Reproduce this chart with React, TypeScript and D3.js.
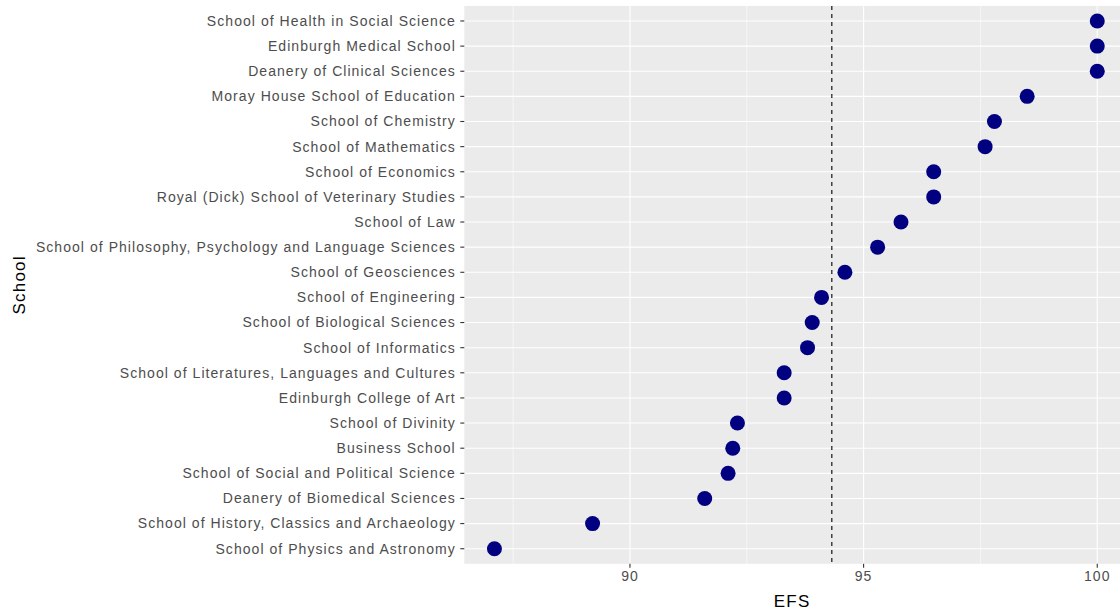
import React from "react";
import * as d3 from "d3";

const schools = [
  "School of Health in Social Science",
  "Edinburgh Medical School",
  "Deanery of Clinical Sciences",
  "Moray House School of Education",
  "School of Chemistry",
  "School of Mathematics",
  "School of Economics",
  "Royal (Dick) School of Veterinary Studies",
  "School of Law",
  "School of Philosophy, Psychology and Language Sciences",
  "School of Geosciences",
  "School of Engineering",
  "School of Biological Sciences",
  "School of Informatics",
  "School of Literatures, Languages and Cultures",
  "Edinburgh College of Art",
  "School of Divinity",
  "Business School",
  "School of Social and Political Science",
  "Deanery of Biomedical Sciences",
  "School of History, Classics and Archaeology",
  "School of Physics and Astronomy",
];
const efs = [
  100, 100, 100, 98.5, 97.8, 97.6, 96.5, 96.5, 95.8, 95.3, 94.6, 94.1, 93.9,
  93.8, 93.3, 93.3, 92.3, 92.2, 92.1, 91.6, 89.2, 87.1,
];
const meanLine = 94.32;
const xTicks = [90, 95, 100];
const xMinor = [87.5, 92.5, 97.5];

export default function App() {
  const W = 1120;
  const H = 611;
  const left = 464.3;
  const top = 5.9;
  const bottom = 563.8;
  const [mn, mx] = d3.extent(efs) as [number, number];
  const pad = (mx - mn) * 0.05;
  const x = d3
    .scaleLinear()
    .domain([mn - pad, mx + pad])
    .range([left, left + (mx - mn + 2 * pad) * 46.73]);
  const right = x.range()[1];
  const n = schools.length;
  const y = d3
    .scaleLinear()
    .domain([-0.6, n - 1 + 0.6])
    .range([top, bottom]);
  const font = "'Liberation Sans', Arial, sans-serif";
  return (
    <svg
      width={W}
      height={H}
      style={{ position: "absolute", left: 0, top: 0, background: "white" }}
    >
      <rect x={left} y={top} width={right - left} height={bottom - top} fill="#EBEBEB" />
      {xMinor.map((v) => (
        <line key={"m" + v} x1={x(v)} x2={x(v)} y1={top} y2={bottom} stroke="white" strokeWidth={0.55} />
      ))}
      {xTicks.map((v) => (
        <line key={"M" + v} x1={x(v)} x2={x(v)} y1={top} y2={bottom} stroke="white" strokeWidth={1.1} />
      ))}
      {schools.map((s, i) => (
        <line key={"h" + i} x1={left} x2={right} y1={y(i)} y2={y(i)} stroke="white" strokeWidth={1.1} />
      ))}
      <line
        x1={x(meanLine)}
        x2={x(meanLine)}
        y1={top}
        y2={bottom}
        stroke="black"
        strokeWidth={1.1}
        strokeDasharray="4,4"
      />
      {efs.map((v, i) => (
        <circle key={"p" + i} cx={x(v)} cy={y(i)} r={7.5} fill="#000080" />
      ))}
      {schools.map((s, i) => (
        <g key={"t" + i}>
          <line x1={left - 4} x2={left} y1={y(i)} y2={y(i)} stroke="#333333" strokeWidth={1.1} />
          <text
            x={left - 8.5}
            y={y(i)}
            dy="0.35em"
            textAnchor="end"
            fontFamily={font}
            fontSize={14}
            letterSpacing={1.05}
            fill="#4D4D4D"
          >
            {s}
          </text>
        </g>
      ))}
      {xTicks.map((v) => (
        <g key={"x" + v}>
          <line x1={x(v)} x2={x(v)} y1={bottom} y2={bottom + 4} stroke="#333333" strokeWidth={1.1} />
          <text
            x={x(v)}
            y={bottom + 17}
            textAnchor="middle"
            fontFamily={font}
            fontSize={14}
            letterSpacing={1}
            fill="#4D4D4D"
          >
            {v}
          </text>
        </g>
      ))}
      <text
        x={(left + 1120) / 2}
        y={607}
        textAnchor="middle"
        fontFamily={font}
        fontSize={17}
        letterSpacing={1.3}
        fill="black"
      >
        EFS
      </text>
      <text
        transform={`translate(25, ${(top + bottom) / 2}) rotate(-90)`}
        textAnchor="middle"
        fontFamily={font}
        fontSize={17}
        letterSpacing={1.2}
        fill="black"
      >
        School
      </text>
    </svg>
  );
}
